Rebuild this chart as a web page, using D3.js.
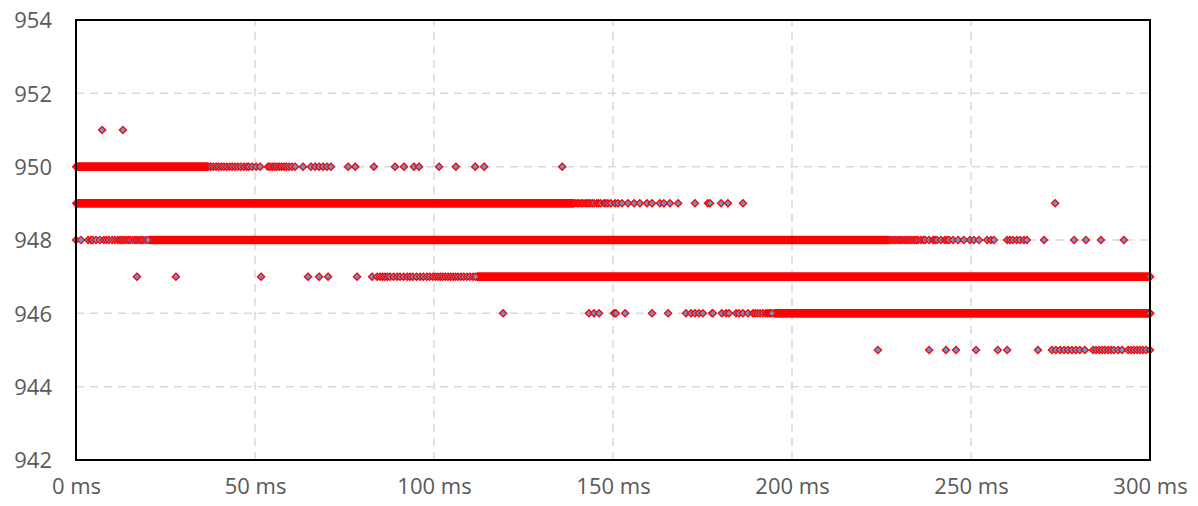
<!DOCTYPE html>
<html>
<head>
<meta charset="utf-8">
<script src="https://cdn.jsdelivr.net/npm/d3@7"></script>
<style>
  body { margin: 0; background: #fff; }
  text { font-family: "Open Sans", "Liberation Sans", sans-serif; }
</style>
</head>
<body>
<svg id="main-svg"></svg>
<script>
// axis ticks
let xTicks = [0, 50, 100, 150, 200, 250, 300];
let yTicks = [942, 944, 946, 948, 950, 952, 954];

// dense runs: [value, from ms, to ms] (markers packed so tight they merge)
let denseRuns = [
  [950, 0, 37],
  [949, 0, 139],
  [948, 20.5, 227],
  [947, 112, 300],
  [946, 195, 300]
];

// single readings, ms, per value
let pts951 = [7.3, 13.1];
let pts950 = [37.6, 38.3, 39.1, 39.8, 40.6, 41.3, 42.1, 42.9, 43.6, 44.4, 45.2, 46.0, 46.9,
  47.7, 48.3, 49.2, 50.3, 51.4, 53.6, 54.2, 54.9, 55.5, 56.1, 56.8, 57.4, 58.1, 58.7, 59.5,
  60.3, 61.2, 63.4, 65.6, 66.8, 67.9, 69.0, 70.1, 71.2, 76.0, 78.0, 83.2, 89.1, 91.6, 94.4,
  95.8, 101.4, 106.1, 111.5, 114.0, 135.8];
let pts949 = [139.4, 140.0, 140.5, 141.1, 141.6, 142.2, 142.7, 143.2, 143.6, 144.2, 144.7, 145.5,
  146.0, 146.6, 147.5, 148.0, 148.6, 149.4, 150.6, 151.4, 152.5, 154.2, 155.9, 157.5, 159.5,
  160.9, 163.1, 164.2, 165.9, 168.2, 172.9, 176.5, 177.1, 180.2, 182.1, 186.3, 273.5];
let pts948 = [0, 1.4, 3.4, 4.2, 4.7, 5.6, 6.7, 7.8, 8.5, 9.2, 10.1, 10.9, 11.7, 12.3, 12.8, 13.4,
  14.0, 14.6, 15.1, 15.8, 16.5, 17.0, 17.6, 18.2, 18.7, 19.4, 20.1, 227.4, 227.9, 228.5, 229.0,
  229.6, 230.2, 230.7, 231.3, 231.8, 232.4, 232.9, 233.5, 234.1, 234.7, 235.2, 236.0, 236.7,
  237.2, 238.3, 239.4, 240.0, 240.5, 241.6, 242.7, 243.3, 243.9, 245.0, 246.4, 248.0, 249.7,
  250.8, 252.2, 254.5, 255.6, 256.4, 260.1, 260.9, 261.7, 262.8, 263.7, 264.8, 265.6, 270.4,
  278.8, 282.1, 286.3, 292.7];
let pts947 = [17.0, 27.9, 51.7, 64.8, 67.9, 70.4, 78.5, 82.7, 84.1, 84.9, 85.6, 86.3, 87.0, 87.7,
  88.7, 89.7, 90.5, 91.5, 92.5, 93.3, 94.1, 95.1, 96.1, 97.0, 98.0, 98.8, 99.7, 100.4, 101.1,
  101.8, 102.5, 103.2, 103.9, 104.6, 105.3, 106.0, 106.7, 107.5, 108.3, 109.2, 110.0, 110.9,
  111.6];
let pts946 = [119.3, 143.3, 144.7, 146.1, 150.3, 150.8, 153.4, 160.9, 165.4, 170.4, 171.8, 172.9,
  174.0, 175.1, 177.7, 177.9, 180.4, 181.6, 182.4, 184.4, 185.2, 186.3, 187.7, 189.1, 189.7,
  190.4, 191.1, 191.9, 192.7, 193.2, 193.6, 194.0, 194.4, 300];
let pts945 = [224.0, 238.3, 243.0, 245.8, 251.4, 257.5, 260.1, 268.7, 272.6, 273.7, 274.9, 276.0,
  277.1, 278.2, 279.3, 280.4, 281.8, 284.1, 284.9, 285.8, 286.6, 287.4, 288.3, 289.1, 289.9,
  291.1, 292.2, 293.9, 294.7, 295.5, 296.4, 297.2, 298.0, 298.9, 300];
// end markers on the merged runs that still show their fill
let ptsRunEnds = [[947, 300], [946, 300]];

let width = 1198, height = 506;
let margin = {top: 20, right: 48, bottom: 46, left: 76};

let svg = d3.select('#main-svg').attr('width', width).attr('height', height);

let x = d3.scaleLinear().domain([0, 300]).range([margin.left, width - margin.right]);
let y = d3.scaleLinear().domain([942, 954]).range([height - margin.bottom, margin.top]);

// grid
svg.append('g')
  .selectAll('line')
  .data(yTicks.slice(1, -1))
  .join('line')
  .attr('x1', x(0)).attr('x2', x(300))
  .attr('y1', d => y(d)).attr('y2', d => y(d))
  .attr('stroke', '#d9d9d9').attr('stroke-width', 1.5).attr('stroke-dasharray', '8,6');

svg.append('g')
  .selectAll('line')
  .data(xTicks.slice(1, -1))
  .join('line')
  .attr('x1', d => x(d)).attr('x2', d => x(d))
  .attr('y1', y(942)).attr('y2', y(954))
  .attr('stroke', '#d9d9d9').attr('stroke-width', 1.5).attr('stroke-dasharray', '8,6');

// axes (labels only)
let xAxis = svg.append('g')
  .attr('transform', `translate(0,${y(942)})`)
  .call(d3.axisBottom(x).tickValues(xTicks).tickSize(0).tickPadding(34).tickFormat(d => d + ' ms'));
let yAxis = svg.append('g')
  .attr('transform', `translate(${margin.left},0)`)
  .call(d3.axisLeft(y).tickValues(yTicks).tickSize(0).tickPadding(24).tickFormat(d3.format('d')));
[xAxis, yAxis].forEach(a => {
  a.select('.domain').remove();
  a.selectAll('text').attr('fill', '#595959').style('font-size', '22px');
});
xAxis.selectAll('text').attr('dy', 0);
yAxis.selectAll('text').attr('dy', '0.35em');

// dense runs drawn as merged band with pointed ends
let r = 4.3;
svg.append('g')
  .selectAll('path')
  .data(denseRuns)
  .join('path')
  .attr('d', d => {
    let x0 = x(d[1]), x1 = x(d[2]), cy = y(d[0]);
    return `M${x0 - r},${cy} L${x0},${cy - r} L${x1},${cy - r} L${x1 + r},${cy} L${x1},${cy + r} L${x0},${cy + r}Z`;
  })
  .attr('fill', '#ff0000');

// single points
let points = [];
[[951, pts951], [950, pts950], [949, pts949], [948, pts948], [947, pts947], [946, pts946], [945, pts945]]
  .forEach(([v, arr]) => arr.forEach(t => points.push({t: t, v: v})));
ptsRunEnds.forEach(([v, t]) => points.push({t: t, v: v}));

let dr = 3.6;
svg.append('g')
  .selectAll('path')
  .data(points)
  .join('path')
  .attr('transform', d => `translate(${x(d.t)},${y(d.v)})`)
  .attr('d', `M0,${-dr} L${dr},0 L0,${dr} L${-dr},0Z`)
  .attr('fill', '#5b9bd5')
  .attr('stroke', '#ff0000')
  .attr('stroke-width', 1.3);

// plot border
svg.append('rect')
  .attr('x', x(0)).attr('y', y(954))
  .attr('width', x(300) - x(0)).attr('height', y(942) - y(954))
  .attr('fill', 'none').attr('stroke', '#000').attr('stroke-width', 2);
</script>
</body>
</html>
